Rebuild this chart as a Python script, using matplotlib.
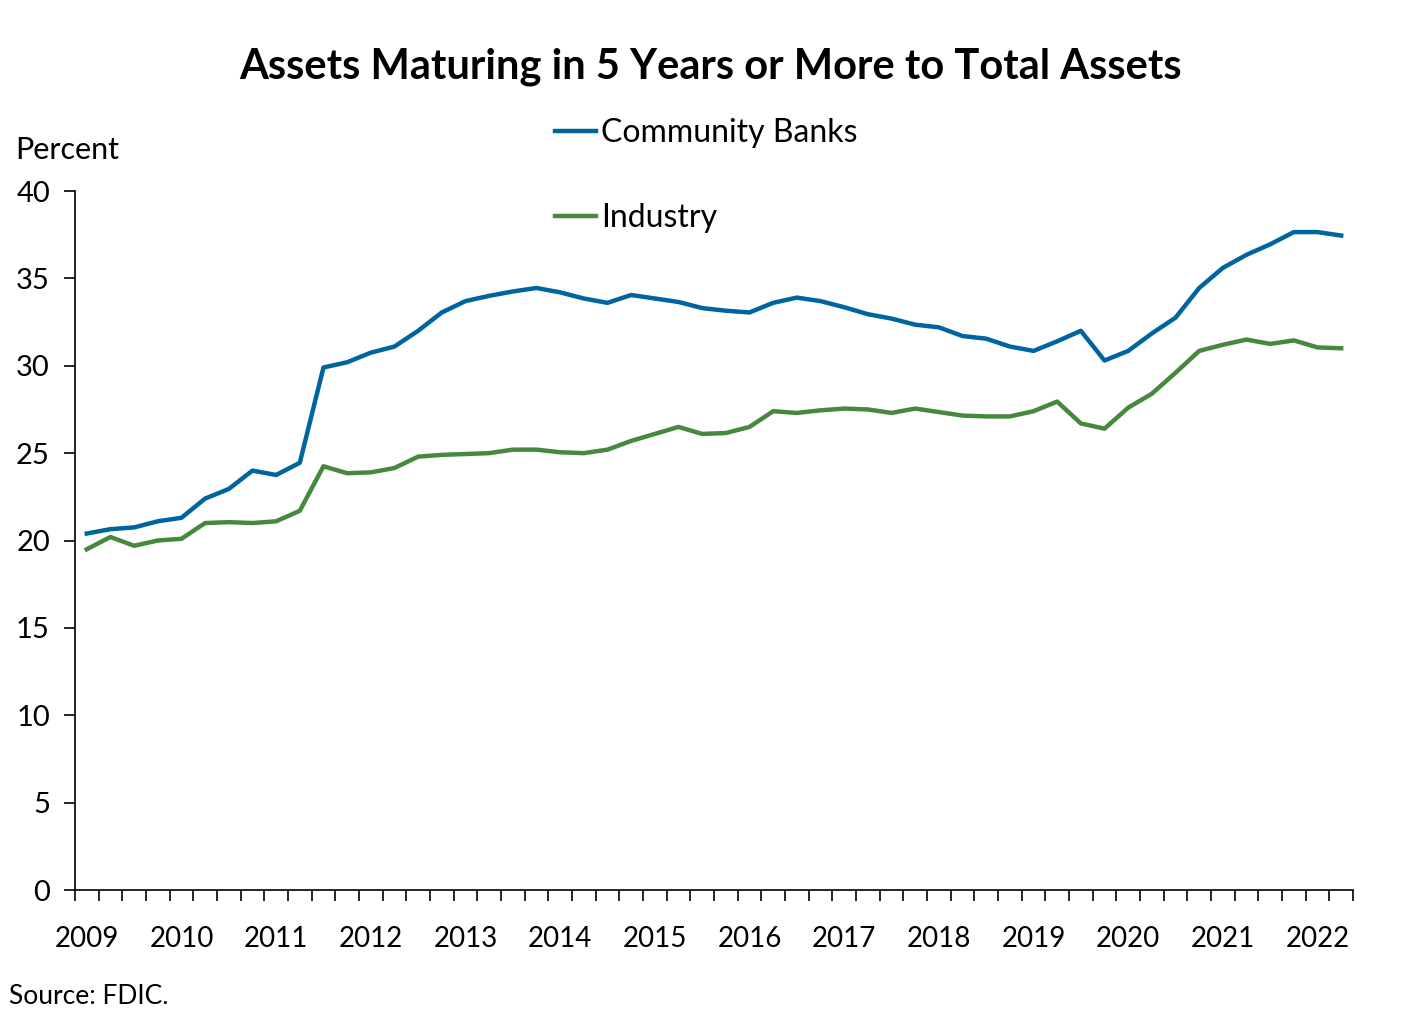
import matplotlib.pyplot as plt
import numpy as np

plt.rcParams['font.family'] = ['Lato', 'DejaVu Sans']

# kwartały 2009Q1 .. 2022Q2
lata = [str(r) for r in range(2009, 2023)]
kwartaly = [f"{r}Q{q}" for r in range(2009, 2023) for q in range(1, 5)][:54]

community_banks = [20.4, 20.65, 20.75, 21.1, 21.3, 22.4, 22.95, 24.0, 23.75, 24.45,
                   29.9, 30.2, 30.75, 31.1, 32.0, 33.05, 33.7, 34.0, 34.25, 34.45,
                   34.2, 33.85, 33.6, 34.05, 33.85, 33.65, 33.3, 33.15, 33.05, 33.6,
                   33.9, 33.7, 33.35, 32.95, 32.7, 32.35, 32.2, 31.7, 31.55, 31.1,
                   30.85, 31.4, 32.0, 30.3, 30.85, 31.85, 32.75, 34.45, 35.6, 36.35,
                   36.95, 37.65, 37.65, 37.45]
industry = [19.5, 20.2, 19.7, 20.0, 20.1, 21.0, 21.05, 21.0, 21.1, 21.7,
            24.25, 23.85, 23.9, 24.15, 24.8, 24.9, 24.95, 25.0, 25.2, 25.2,
            25.05, 25.0, 25.2, 25.7, 26.1, 26.5, 26.1, 26.15, 26.5, 27.4,
            27.3, 27.45, 27.55, 27.5, 27.3, 27.55, 27.35, 27.15, 27.1, 27.1,
            27.4, 27.95, 26.7, 26.4, 27.6, 28.4, 29.6, 30.85, 31.2, 31.5,
            31.25, 31.45, 31.05, 31.0]

niebieski = "#00649f"
zielony = "#46893e"

fig = plt.figure(figsize=(14.22, 10.33), dpi=100)
ax = fig.add_axes([0.0527, 0.1384, 0.8988, 0.6767])

x = np.arange(len(kwartaly))
ax.plot(x, community_banks, color=niebieski, lw=3.2, label="Community Banks")
ax.plot(x, industry, color=zielony, lw=3.2, label="Industry")

ax.set_ylim(0, 40)
ax.set_yticks(range(0, 41, 5))
ax.set_xlim(-0.5, len(kwartaly) - 0.5)
ax.set_xticks(np.arange(-0.5, len(kwartaly), 1.0))
ax.set_xticklabels([])
ax.set_xticks(np.arange(0, len(kwartaly), 4), minor=True)
ax.set_xticklabels(lata, minor=True)
ax.tick_params(axis='x', which='major', direction='out', length=8, width=1.2)
ax.tick_params(axis='x', which='minor', length=0, pad=26, labelsize=20)
ax.tick_params(axis='y', direction='out', length=8, width=1.2, labelsize=21, pad=10)

for s in ['top', 'right']:
    ax.spines[s].set_visible(False)
for s in ['left', 'bottom']:
    ax.spines[s].set_linewidth(1.2)

fig.text(0.5, 0.935, "Assets Maturing in 5 Years or More to Total Assets",
         ha='center', va='center', fontsize=30, fontweight='bold')
fig.text(0.011, 0.855, "Percent", ha='left', va='center', fontsize=22)
fig.text(0.006, 0.035, "Source: FDIC.", ha='left', va='center', fontsize=19)

ax.legend(loc='upper left', bbox_to_anchor=(0.381, 0.898), bbox_transform=fig.transFigure,
          frameon=False, fontsize=23, handlelength=1.3, handletextpad=0.15,
          labelspacing=1.72, borderaxespad=0)

fig.savefig("out.png", dpi=100)
